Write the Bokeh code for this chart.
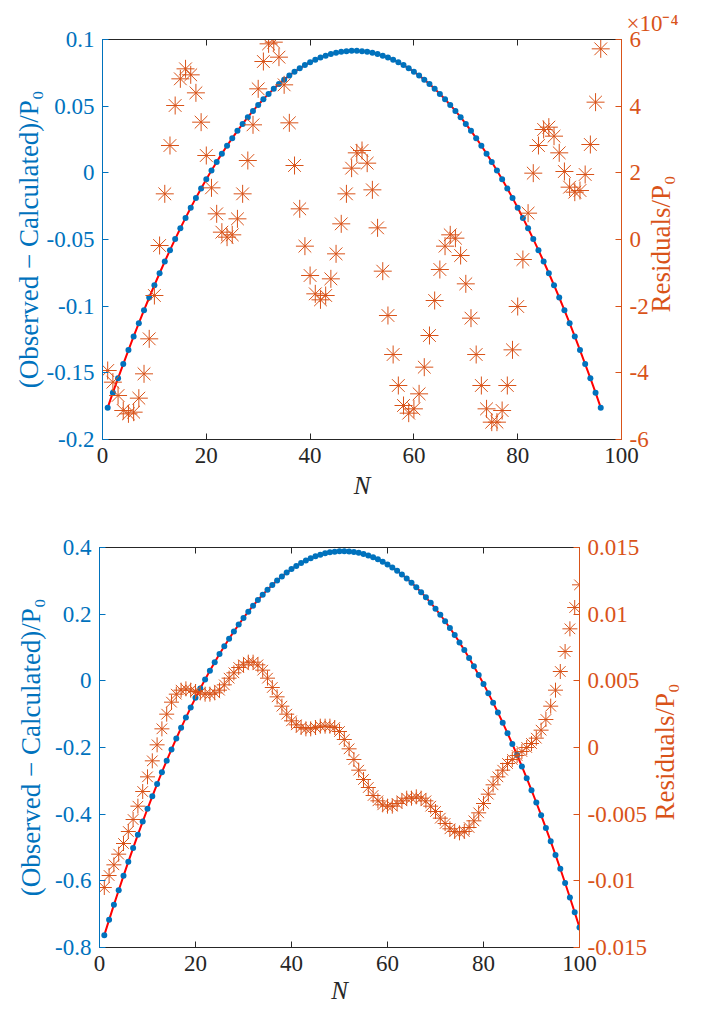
import math
from bokeh.plotting import figure
from bokeh.models import Range1d, LinearAxis, FixedTicker, CustomJSTickFormatter, Title
from bokeh.embed import file_html
from bokeh.resources import INLINE

# ---------------- data ----------------
N_top = list(range(1, 97))
top_obs = [-0.1761, -0.1649, -0.1540, -0.1434, -0.1329, -0.1227, -0.1128, -0.1030, -0.0935, -0.0843,
           -0.0753, -0.0665, -0.0580, -0.0497, -0.0416, -0.0338, -0.0262, -0.0188, -0.0117, -0.0048,
           0.0018, 0.0082, 0.0144, 0.0203, 0.0260, 0.0315, 0.0367, 0.0417, 0.0464, 0.0509,
           0.0552, 0.0592, 0.0630, 0.0666, 0.0699, 0.0730, 0.0758, 0.0784, 0.0808, 0.0829,
           0.0848, 0.0865, 0.0879, 0.0891, 0.0900, 0.0908, 0.0912, 0.0915, 0.0915, 0.0912,
           0.0908, 0.0900, 0.0891, 0.0879, 0.0865, 0.0848, 0.0829, 0.0808, 0.0784, 0.0758,
           0.0730, 0.0699, 0.0666, 0.0630, 0.0592, 0.0552, 0.0509, 0.0464, 0.0417, 0.0367,
           0.0315, 0.0260, 0.0203, 0.0144, 0.0082, 0.0018, -0.0048, -0.0117, -0.0188, -0.0262,
           -0.0338, -0.0416, -0.0497, -0.0580, -0.0665, -0.0753, -0.0843, -0.0935, -0.1030, -0.1128,
           -0.1227, -0.1329, -0.1434, -0.1540, -0.1649, -0.1761]
top_fit = list(top_obs)
# residuals in units of 1e-4 (right axis carries the x10^-4 multiplier)
top_resid_e4 = [-3.93, -4.28, -4.68, -5.13, -5.23, -5.18, -4.76, -4.03, -2.98, -1.68,
                -0.18, 1.37, 2.82, 4.02, 4.82, 5.12, 4.94, 4.40, 3.52, 2.52,
                1.55, 0.77, 0.22, 0.07, 0.14, 0.62, 1.37, 2.37, 3.44, 4.52,
                5.34, 5.87, 5.92, 5.47, 4.64, 3.50, 2.22, 0.92, -0.20, -1.08,
                -1.63, -1.81, -1.68, -1.18, -0.43, 0.47, 1.37, 2.14, 2.60, 2.67,
                2.29, 1.49, 0.35, -0.95, -2.28, -3.45, -4.38, -4.98, -5.21, -5.08,
                -4.63, -3.83, -2.88, -1.83, -0.90, -0.20, 0.14, 0.04, -0.48, -1.33,
                -2.36, -3.45, -4.38, -5.08, -5.48, -5.48, -5.13, -4.38, -3.31, -2.01,
                -0.60, 0.79, 1.99, 2.82, 3.30, 3.37, 3.10, 2.60, 2.04, 1.57,
                1.42, 1.47, 1.95, 2.85, 4.12, 5.72]

N_bot = list(range(1, 101))
bot_obs = [-0.7629, -0.7171, -0.6721, -0.6282, -0.5851, -0.5430, -0.5018, -0.4615, -0.4222, -0.3838,
           -0.3464, -0.3098, -0.2742, -0.2396, -0.2058, -0.1730, -0.1411, -0.1102, -0.0802, -0.0511,
           -0.0229, 0.0043, 0.0306, 0.0560, 0.0804, 0.1039, 0.1265, 0.1481, 0.1688, 0.1886,
           0.2075, 0.2254, 0.2424, 0.2584, 0.2736, 0.2877, 0.3010, 0.3133, 0.3247, 0.3352,
           0.3448, 0.3534, 0.3610, 0.3678, 0.3736, 0.3785, 0.3825, 0.3855, 0.3876, 0.3887,
           0.3890, 0.3883, 0.3866, 0.3841, 0.3806, 0.3762, 0.3708, 0.3645, 0.3573, 0.3492,
           0.3401, 0.3301, 0.3192, 0.3073, 0.2945, 0.2808, 0.2661, 0.2505, 0.2340, 0.2165,
           0.1982, 0.1788, 0.1586, 0.1374, 0.1153, 0.0923, 0.0683, 0.0434, 0.0176, -0.0092,
           -0.0369, -0.0655, -0.0950, -0.1255, -0.1569, -0.1893, -0.2226, -0.2568, -0.2919, -0.3280,
           -0.3650, -0.4029, -0.4418, -0.4816, -0.5223, -0.5639, -0.6065, -0.6500, -0.6945, -0.7399]
bot_fit = list(bot_obs)
bot_resid = [-0.0105, -0.0096, -0.0088, -0.0080, -0.0072, -0.0063, -0.0054, -0.0044, -0.0033, -0.0022,
             -0.0010, 0.0002, 0.0014, 0.0025, 0.0034, 0.0040, 0.0043, 0.0044, 0.0043, 0.0042,
             0.0041, 0.0040, 0.0040, 0.0041, 0.0043, 0.0047, 0.0052, 0.0056, 0.0060, 0.0062,
             0.0064, 0.0064, 0.0062, 0.0058, 0.0052, 0.0045, 0.0038, 0.0031, 0.0025, 0.0020,
             0.0017, 0.0015, 0.0014, 0.0014, 0.0015, 0.0016, 0.0016, 0.0016, 0.0015, 0.0012,
             0.0006, -0.0001, -0.0009, -0.0017, -0.0024, -0.0030, -0.0036, -0.0040, -0.0043, -0.0044,
             -0.0044, -0.0042, -0.0040, -0.0038, -0.0038, -0.0037, -0.0038, -0.0040, -0.0044, -0.0048,
             -0.0053, -0.0057, -0.0061, -0.0063, -0.0064, -0.0063, -0.0060, -0.0055, -0.0049, -0.0042,
             -0.0035, -0.0028, -0.0022, -0.0017, -0.0012, -0.0009, -0.0006, -0.0003, 0.0000, 0.0003,
             0.0007, 0.0013, 0.0021, 0.0031, 0.0043, 0.0057, 0.0072, 0.0089, 0.0105, 0.0122]

x_ticks = [0, 20, 40, 60, 80, 100]
top_left_ticks = [-0.2, -0.15, -0.1, -0.05, 0, 0.05, 0.1]
top_right_ticks = [-6, -4, -2, 0, 2, 4, 6]
bot_left_ticks = [-0.8, -0.6, -0.4, -0.2, 0, 0.2, 0.4]
bot_right_ticks = [-0.015, -0.01, -0.005, 0, 0.005, 0.01, 0.015]

x_title = "N"
left_title = "(Observed \u2212 Calculated)/P\u2080"
right_title = "Residuals/P\u2080"
multiplier = "\u00d710\u207b\u2074"

# ---------------- style ----------------
BLUE = "#0072BD"
ORANGE = "#D95319"
DARK = "#262626"
FONT = "Liberation Serif"
TICK_FS = "23px"
LAB_FS = "27px"
# lead-in spacing so that the bottom-to-top right label is centred on the frame
RIGHT_PAD = "\u2003\u2003\u2003\u2003\u2002\u2009"

fmt = CustomJSTickFormatter(code="return (Math.round(tick*1e6)/1e6).toString();")


def style_axis(ax, color, ticks, labels=True):
    ax.ticker = FixedTicker(ticks=ticks)
    ax.formatter = fmt
    ax.axis_line_color = color
    ax.axis_line_width = 1
    ax.major_tick_line_color = color
    ax.major_tick_in = 6
    ax.major_tick_out = 0
    ax.minor_tick_line_color = None
    ax.major_label_text_font = FONT
    ax.major_label_text_color = color
    if labels:
        ax.major_label_text_font_size = TICK_FS
        ax.major_label_standoff = 8
    else:
        ax.major_label_text_font_size = "0px"
        ax.major_label_text_color = None
        ax.major_label_standoff = 0
    ax.axis_label_text_font = FONT
    ax.axis_label_text_font_size = LAB_FS
    ax.axis_label_text_font_style = "normal"
    ax.axis_label_text_color = color


def make_panel(N, obs, fit, resid, yl, yr, lt, rt, width, height, bl, bt, br, bb,
               ast_size, lstand, rstand, xstand):
    p = figure(width=width, height=height, output_backend="svg", toolbar_location=None,
               x_range=Range1d(0, 100), y_range=Range1d(*yl),
               min_border_left=bl, min_border_top=bt, min_border_right=br, min_border_bottom=bb)
    p.extra_y_ranges = {"r": Range1d(*yr)}
    p.xgrid.visible = False
    p.ygrid.visible = False
    p.outline_line_color = None
    p.background_fill_color = "white"
    p.border_fill_color = "white"

    xa = p.xaxis[0]
    style_axis(xa, DARK, x_ticks)
    xa.axis_label = x_title
    xa.axis_label_text_font_style = "italic"
    xa.axis_label_text_font_size = "25px"
    xa.axis_label_standoff = xstand

    ya = p.yaxis[0]
    style_axis(ya, BLUE, lt)
    ya.axis_label = left_title
    ya.axis_label_standoff = lstand

    top_ax = LinearAxis()
    style_axis(top_ax, DARK, x_ticks, labels=False)
    p.add_layout(top_ax, "above")

    right_ax = LinearAxis(y_range_name="r")
    style_axis(right_ax, ORANGE, rt)
    right_ax.axis_label = RIGHT_PAD + right_title
    right_ax.axis_label_standoff = rstand
    right_ax.axis_label_orientation = math.pi / 2
    right_ax.axis_label_align = "start"
    p.add_layout(right_ax, "right")

    p.line(N, fit, line_color="#FF0000", line_width=2)
    p.scatter(N, obs, marker="circle", size=6, fill_color=BLUE, line_color=BLUE, line_width=0)
    p.scatter(N, resid, marker="asterisk", size=ast_size, line_color=ORANGE, line_width=1,
              y_range_name="r")
    return p


p1 = make_panel(N_top, top_obs, top_fit, top_resid_e4, (-0.2, 0.1), (-6, 6),
                top_left_ticks, top_right_ticks, 700, 510, 102, 39, 79, 71,
                18, 0, 9, 6)
p1.add_layout(Title(text=multiplier, align="right", offset=-57, standoff=8,
                    text_font=FONT, text_font_size="23px", text_font_style="normal",
                    text_color=ORANGE), "above")

p2 = make_panel(N_bot, bot_obs, bot_fit, bot_resid, (-0.8, 0.4), (-0.015, 0.015),
                bot_left_ticks, bot_right_ticks, 700, 502, 99, 37, 121, 65,
                15, 6, 15, 3)

open("out.html", "w").write(file_html([p1, p2], INLINE))
